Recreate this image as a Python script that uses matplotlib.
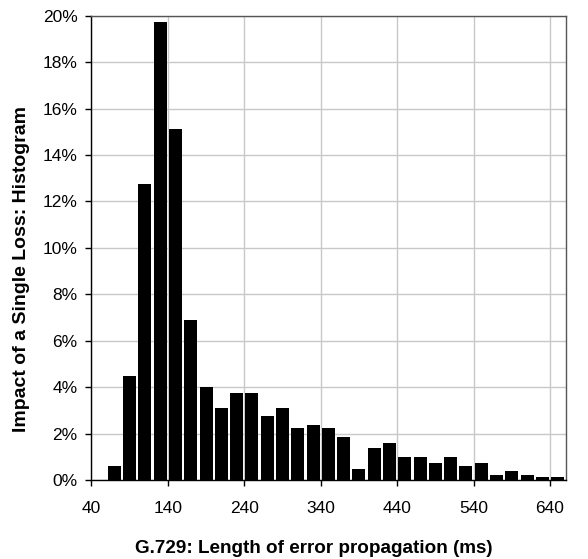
import matplotlib
matplotlib.use("Agg")
import matplotlib.pyplot as plt
from matplotlib.ticker import FuncFormatter

bin_centers = [70, 90, 110, 130, 150, 170, 190, 210, 230, 250,
               270, 290, 310, 330, 350, 370, 390, 410, 430, 450,
               470, 490, 510, 530, 550, 570, 590, 610, 630, 650]
percent = [0.60, 4.48, 12.76, 19.74, 15.13, 6.90, 4.00, 3.10, 3.75, 3.75,
           2.76, 3.10, 2.24, 2.37, 2.24, 1.85, 0.47, 1.38, 1.59, 0.99,
           0.99, 0.73, 0.99, 0.60, 0.73, 0.22, 0.39, 0.22, 0.13, 0.13]
x_ticks = [40, 140, 240, 340, 440, 540, 640]
y_ticks = [0, 2, 4, 6, 8, 10, 12, 14, 16, 18, 20]

plt.rcParams['font.family'] = ['Liberation Sans', 'DejaVu Sans']

fig = plt.figure(figsize=(5.88, 5.59), dpi=100)
ax = fig.add_axes([0.1556, 0.1413, 0.807, 0.8306])

ax.bar(bin_centers, percent, width=17, color='black', zorder=3)

ax.set_xlim(40, 661)
ax.set_ylim(0, 20)
ax.set_xticks(x_ticks)
ax.set_yticks(y_ticks)
ax.yaxis.set_major_formatter(FuncFormatter(lambda v, p: f"{int(v)}%"))
ax.grid(True, color='#c8c8c8', linewidth=1.0, zorder=0)
ax.set_axisbelow(True)

ax.tick_params(axis='both', direction='out', length=4, width=1, labelsize=12.5, colors='black')
ax.tick_params(axis='y', pad=6)
ax.tick_params(axis='x', pad=11)

for s in ['left', 'bottom']:
    ax.spines[s].set_color('black')
    ax.spines[s].set_linewidth(1.0)
for s in ['top', 'right']:
    ax.spines[s].set_color('#555555')
    ax.spines[s].set_linewidth(1.0)

ax.set_xlabel("G.729: Length of error propagation (ms)", fontsize=13.6, fontweight='bold', va='center')
ax.set_ylabel("Impact of a Single Loss: Histogram", fontsize=14, fontweight='bold', va='center')
ax.xaxis.set_label_coords(0.468, -0.1465)
ax.yaxis.set_label_coords(-0.1465, 0.4545)

fig.savefig("out.png", dpi=100)
